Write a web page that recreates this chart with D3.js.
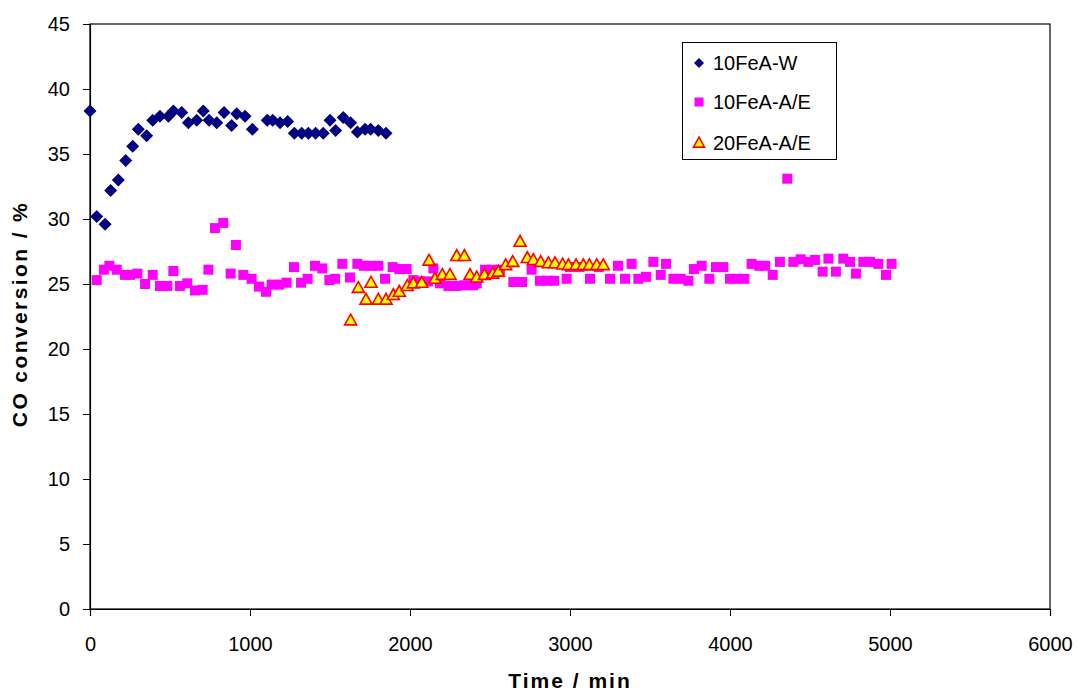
<!DOCTYPE html>
<html><head><meta charset="utf-8">
<script src="https://cdn.jsdelivr.net/npm/d3@7"></script>
<style>body{margin:0;background:#fff}svg{display:block}text{font-family:"Liberation Sans",Arial,sans-serif}</style>
</head><body>
<svg id="c" width="1078" height="692"></svg>
<script>
const seriesNames = ["10FeA-W", "10FeA-A/E", "20FeA-A/E"];
const wX = [0,42,94,129,177,223,267,302,354,392,437,490,521,573,615,667,708,744,792,838,885,917,969,1015,1108,1142,1188,1235,1277,1323,1365,1410,1458,1500,1535,1583,1629,1671,1719,1754,1802,1850];
const wY = [38.3,30.2,29.6,32.2,33.0,34.5,35.6,36.9,36.4,37.6,37.9,37.9,38.3,38.2,37.4,37.6,38.3,37.6,37.4,38.2,37.2,38.1,37.9,36.9,37.6,37.6,37.4,37.5,36.6,36.6,36.6,36.6,36.6,37.6,36.8,37.8,37.4,36.7,36.9,36.9,36.8,36.6];
const aX = [42,87,121,167,219,250,296,344,392,437,483,521,562,608,656,704,740,781,833,879,912,958,1010,1056,1100,1135,1183,1229,1275,1319,1360,1406,1452,1496,1531,1577,1625,1671,1712,1756,1802,1844,1892,1933,1979,2021,2065,2112,2146,2187,2240,2290,2340,2394,2417,2469,2510,2562,2646,2700,2760,2812,2860,2900,2979,3000,3060,3125,3180,3250,3300,3344,3385,3427,3475,3521,3567,3600,3646,3692,3740,3775,3823,3871,3912,3958,4000,4042,4090,4135,4183,4219,4267,4312,4358,4396,4442,4490,4531,4579,4615,4662,4708,4750,4787,4833,4875,4927,4975,5010];
const aY = [25.3,26.1,26.4,26.1,25.7,25.7,25.8,25.0,25.7,24.85,24.85,26.0,24.85,25.05,24.5,24.55,26.1,29.3,29.7,25.8,28.0,25.7,25.4,24.8,24.4,24.95,24.95,25.1,26.3,25.1,25.4,26.4,26.2,25.3,25.4,26.55,25.5,26.55,26.4,26.4,26.4,25.4,26.3,26.15,26.15,25.3,25.2,25.2,26.2,25.05,24.85,24.85,24.9,24.9,25.05,26.1,26.1,26.1,25.15,25.15,26.1,25.25,25.25,25.25,25.4,26.3,26.3,25.4,26.3,25.4,26.4,25.4,26.55,25.4,25.55,26.7,25.7,26.55,25.4,25.4,25.25,26.15,26.4,25.4,26.3,26.3,25.4,25.4,25.4,26.55,26.4,26.4,25.7,26.7,33.1,26.7,26.9,26.7,26.85,25.95,26.95,25.95,26.95,26.7,25.8,26.7,26.7,26.55,25.7,26.55];
const tX = [1629,1677,1725,1756,1802,1850,1896,1933,1983,2021,2073,2119,2156,2202,2250,2292,2340,2375,2417,2465,2517,2552,2598,2642,2688,2733,2771,2817,2865,2906,2954,2990,3038,3083,3121,3167,3208];
const tY = [22.2,24.7,23.8,25.1,23.8,23.8,24.15,24.4,24.85,25.05,25.1,26.8,25.4,25.7,25.7,27.15,27.15,25.7,25.5,25.7,25.8,25.95,26.45,26.7,28.25,27.0,26.85,26.7,26.6,26.6,26.5,26.45,26.45,26.45,26.45,26.45,26.45];
const xTicks = [0,1000,2000,3000,4000,5000,6000];
const yTicks = [0,5,10,15,20,25,30,35,40,45];

const svg = d3.select("#c");
const L=90, R=1050, T=24, B=609;
const x = d3.scaleLinear().domain([0,6000]).range([L,R]);
const y = d3.scaleLinear().domain([0,45]).range([B,T]);

svg.append("rect").attr("x",L).attr("y",T).attr("width",R-L).attr("height",B-T)
  .attr("fill","none").attr("stroke","#000").attr("stroke-width",1.2);

const xa = svg.append("g").attr("transform",`translate(0,${B})`)
  .call(d3.axisBottom(x).tickValues(xTicks).tickSize(7).tickPadding(21).tickFormat(d3.format("d")));
const ya = svg.append("g").attr("transform",`translate(${L},0)`)
  .call(d3.axisLeft(y).tickValues(yTicks).tickSize(7).tickPadding(13).tickFormat(d3.format("d")));
[xa,ya].forEach(g=>{
  g.select(".domain").attr("stroke","#000").attr("stroke-width",1.2);
  g.selectAll(".tick line").attr("stroke","#000");
  g.selectAll(".tick text").attr("font-size",20).attr("fill","#000").style("font-family",'"Liberation Sans",Arial,sans-serif');
});

svg.append("text").attr("x",570).attr("y",688).attr("text-anchor","middle")
  .attr("font-size",21).attr("font-weight","bold").attr("letter-spacing",2).text("Time / min");
svg.append("text").attr("transform","translate(27,314) rotate(-90)").attr("text-anchor","middle")
  .attr("font-size",21).attr("font-weight","bold").attr("letter-spacing",2.4).text("CO conversion / %");

function diamond(s){return `M0,${-s}L${s},0L0,${s}L${-s},0Z`;}
function square(s){return `M${-s},${-s}H${s}V${s}H${-s}Z`;}
function tri(s){return `M0,${-s*1.05}L${s},${s*0.75}L${-s},${s*0.75}Z`;}

const wData = wX.map((v,i)=>[v,wY[i]]);
const aData = aX.map((v,i)=>[v,aY[i]]);
const tData = tX.map((v,i)=>[v,tY[i]]);

svg.append("g").selectAll("path").data(wData).join("path")
  .attr("d",diamond(6.5)).attr("transform",d=>`translate(${x(d[0])},${y(d[1])})`).attr("fill","#000080");
svg.append("g").selectAll("path").data(aData).join("path")
  .attr("d",square(5)).attr("transform",d=>`translate(${x(d[0])},${y(d[1])})`).attr("fill","#ff00ff");
svg.append("g").selectAll("path").data(tData).join("path")
  .attr("d",tri(6)).attr("transform",d=>`translate(${x(d[0])},${y(d[1])})`)
  .attr("fill","#ffff00").attr("stroke","#ff0000").attr("stroke-width",1.6).attr("stroke-linejoin","miter");

const lg = svg.append("g");
lg.append("rect").attr("x",682.5).attr("y",42.5).attr("width",154).attr("height",117)
  .attr("fill","#fff").attr("stroke","#000").attr("stroke-width",1);
const rows = [63,102,143];
const shapes = [diamond(5),square(4.5),tri(5.5)];
const fills = ["#000080","#ff00ff","#ffff00"];
rows.forEach((ry,i)=>{
  const p = lg.append("path").attr("d",shapes[i]).attr("transform",`translate(699,${ry})`).attr("fill",fills[i]);
  if(i===2) p.attr("stroke","#ff0000").attr("stroke-width",1.6);
  lg.append("text").attr("x",713).attr("y",ry+7).attr("font-size",20).attr("fill","#000").text(seriesNames[i]);
});
</script>
</body></html>
